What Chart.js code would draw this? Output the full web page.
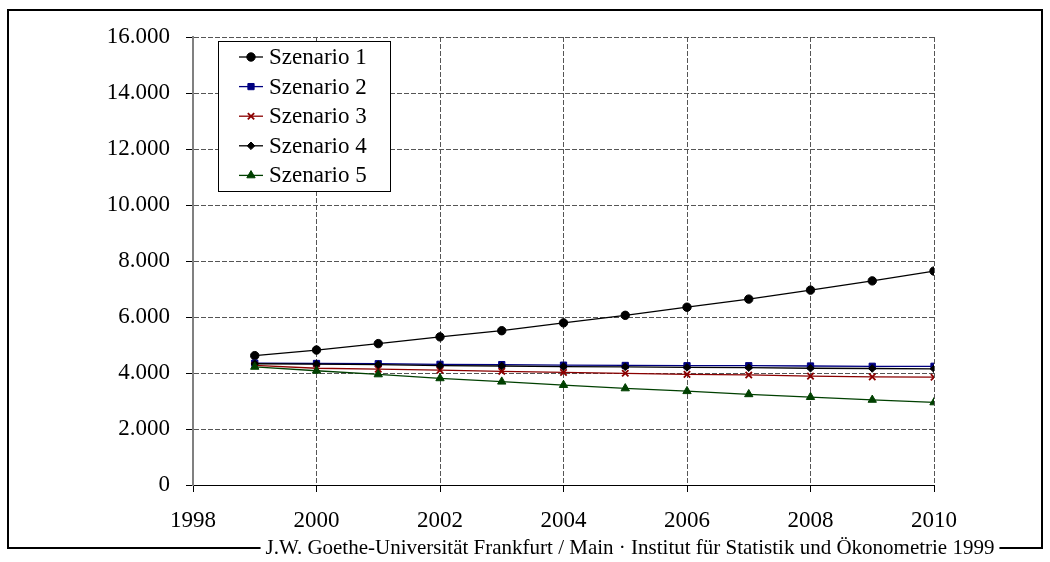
<!DOCTYPE html>
<html>
<head>
<meta charset="utf-8">
<script src="https://cdn.jsdelivr.net/npm/chart.js@4/dist/chart.umd.min.js"></script>
<style>
  html, body { margin: 0; padding: 0; background: #ffffff; }
  #wrap { width: 1050px; height: 562px; }
</style>
</head>
<body>
<div id="wrap"><canvas id="c" width="1050" height="562"></canvas></div>
<script>
// Years on the horizontal axis
const years = [1999, 2000, 2001, 2002, 2003, 2004, 2005, 2006, 2007, 2008, 2009, 2010];

// Scenario series
const szenario1 = [4620, 4820, 5050, 5290, 5510, 5790, 6060, 6350, 6640, 6960, 7290, 7640];
const szenario2 = [4350, 4340, 4330, 4310, 4300, 4280, 4270, 4260, 4260, 4250, 4240, 4240];
const szenario3 = [4270, 4170, 4140, 4100, 4060, 4020, 3990, 3950, 3930, 3890, 3860, 3850];
const szenario4 = [4330, 4320, 4300, 4260, 4250, 4230, 4220, 4200, 4190, 4170, 4160, 4150];
const szenario5 = [4220, 4080, 3950, 3810, 3690, 3570, 3450, 3350, 3240, 3140, 3040, 2950];

const seriesNames = ['Szenario 1', 'Szenario 2', 'Szenario 3', 'Szenario 4', 'Szenario 5'];
const footerText = 'J.W. Goethe-Universität Frankfurt / Main · Institut für Statistik und Ökonometrie 1999';

// Axis ranges
const xMin = 1998, xMax = 2010, xStep = 2;
const yMin = 0, yMax = 16000, yStep = 2000;

const FONT = '"Liberation Serif", "Times New Roman", serif';

function pts(values) {
  return values.map((v, i) => ({ x: years[i], y: v }));
}

function germanNumber(v) {
  return String(Math.round(v)).replace(/\B(?=(\d{3})+(?!\d))/g, '.');
}

const styles = [
  { color: '#000000', point: 'circle',   radius: 4.2 },
  { color: '#000080', point: 'rect',     radius: 4.4 },
  { color: '#8b0000', point: 'crossRot', radius: 4.5 },
  { color: '#000000', point: 'rectRot',  radius: 3.8 },
  { color: '#004000', point: 'triangle', radius: 4.8 }
];

const allSeries = [szenario1, szenario2, szenario3, szenario4, szenario5];

const datasets = allSeries.map((vals, i) => ({
  label: seriesNames[i],
  data: pts(vals),
  borderColor: styles[i].color,
  backgroundColor: styles[i].color,
  borderWidth: 1.3,
  pointStyle: styles[i].point,
  pointRadius: styles[i].radius,
  pointBorderWidth: styles[i].point === 'crossRot' ? 1.8 : 1,
  pointBorderColor: styles[i].color,
  pointBackgroundColor: styles[i].color,
  fill: false,
  tension: 0,
  order: allSeries.length - i
}));

// Outer frame with the institute line set into its bottom edge
const framePlugin = {
  id: 'frame',
  afterDraw(chart) {
    const ctx = chart.ctx;
    ctx.save();
    ctx.font = '21px ' + FONT;
    const tw = ctx.measureText(footerText).width;
    const cx = 630, fy = 548;
    const L = 8, T = 10, R = 1042, B = 548;
    ctx.strokeStyle = '#000000';
    ctx.lineWidth = 2;
    ctx.beginPath();
    ctx.moveTo(cx - tw / 2 - 5, B);
    ctx.lineTo(L, B);
    ctx.lineTo(L, T);
    ctx.lineTo(R, T);
    ctx.lineTo(R, B);
    ctx.lineTo(cx + tw / 2 + 5, B);
    ctx.stroke();
    ctx.fillStyle = '#000000';
    ctx.textAlign = 'center';
    ctx.textBaseline = 'middle';
    ctx.fillText(footerText, cx, fy);
    ctx.restore();
  }
};

// Boxed legend with a line sample and marker per series
const legendBoxPlugin = {
  id: 'legendBox',
  afterDraw(chart) {
    const ctx = chart.ctx;
    const bx = 218, by = 41, bw = 172, bh = 150;
    ctx.save();
    ctx.fillStyle = '#ffffff';
    ctx.fillRect(bx, by, bw, bh);
    ctx.strokeStyle = '#000000';
    ctx.lineWidth = 1;
    ctx.strokeRect(bx + 0.5, by + 0.5, bw, bh);
    ctx.font = '23px ' + FONT;
    ctx.textBaseline = 'middle';
    ctx.textAlign = 'left';
    chart.data.datasets.forEach((ds, i) => {
      const y = 57 + i * 29.6;
      ctx.strokeStyle = ds.borderColor;
      ctx.lineWidth = 1.3;
      ctx.beginPath();
      ctx.moveTo(239, y);
      ctx.lineTo(263, y);
      ctx.stroke();
      ctx.fillStyle = ds.pointBackgroundColor;
      ctx.strokeStyle = ds.pointBorderColor;
      ctx.lineWidth = ds.pointBorderWidth;
      Chart.helpers.drawPoint(ctx, {
        pointStyle: ds.pointStyle,
        radius: ds.pointRadius,
        rotation: 0,
        borderWidth: ds.pointBorderWidth
      }, 251, y);
      ctx.fillStyle = '#000000';
      ctx.fillText(ds.label, 269, y + 1);
    });
    ctx.restore();
  }
};

new Chart(document.getElementById('c'), {
  type: 'line',
  data: { datasets },
  options: {
    responsive: false,
    animation: false,
    devicePixelRatio: 1,
    layout: { padding: { left: 0, right: 116, top: 37, bottom: 32 } },
    plugins: {
      legend: { display: false },
      tooltip: { enabled: false }
    },
    scales: {
      x: {
        type: 'linear',
        min: xMin,
        max: xMax,
        ticks: {
          stepSize: xStep,
          color: '#000000',
          font: { family: FONT, size: 23 },
          padding: 15,
          maxRotation: 0,
          callback: v => String(v)
        },
        grid: {
          color: '#555555',
          lineWidth: 1,
          tickLength: 7,
          tickColor: '#000000',
          tickBorderDash: []
        },
        border: { display: true, color: '#000000', width: 1, dash: [5, 2] },
        afterFit(scale) { scale.height = 45; }
      },
      y: {
        type: 'linear',
        min: yMin,
        max: yMax,
        ticks: {
          stepSize: yStep,
          color: '#000000',
          font: { family: FONT, size: 23 },
          padding: 16,
          callback: v => germanNumber(v)
        },
        grid: {
          color: '#555555',
          lineWidth: 1,
          tickLength: 7,
          tickColor: '#000000',
          tickBorderDash: []
        },
        border: { display: true, color: '#808080', width: 2, dash: [5, 2] },
        afterFit(scale) { scale.width = 193; }
      }
    }
  },
  plugins: [framePlugin, legendBoxPlugin]
});
</script>
</body>
</html>
